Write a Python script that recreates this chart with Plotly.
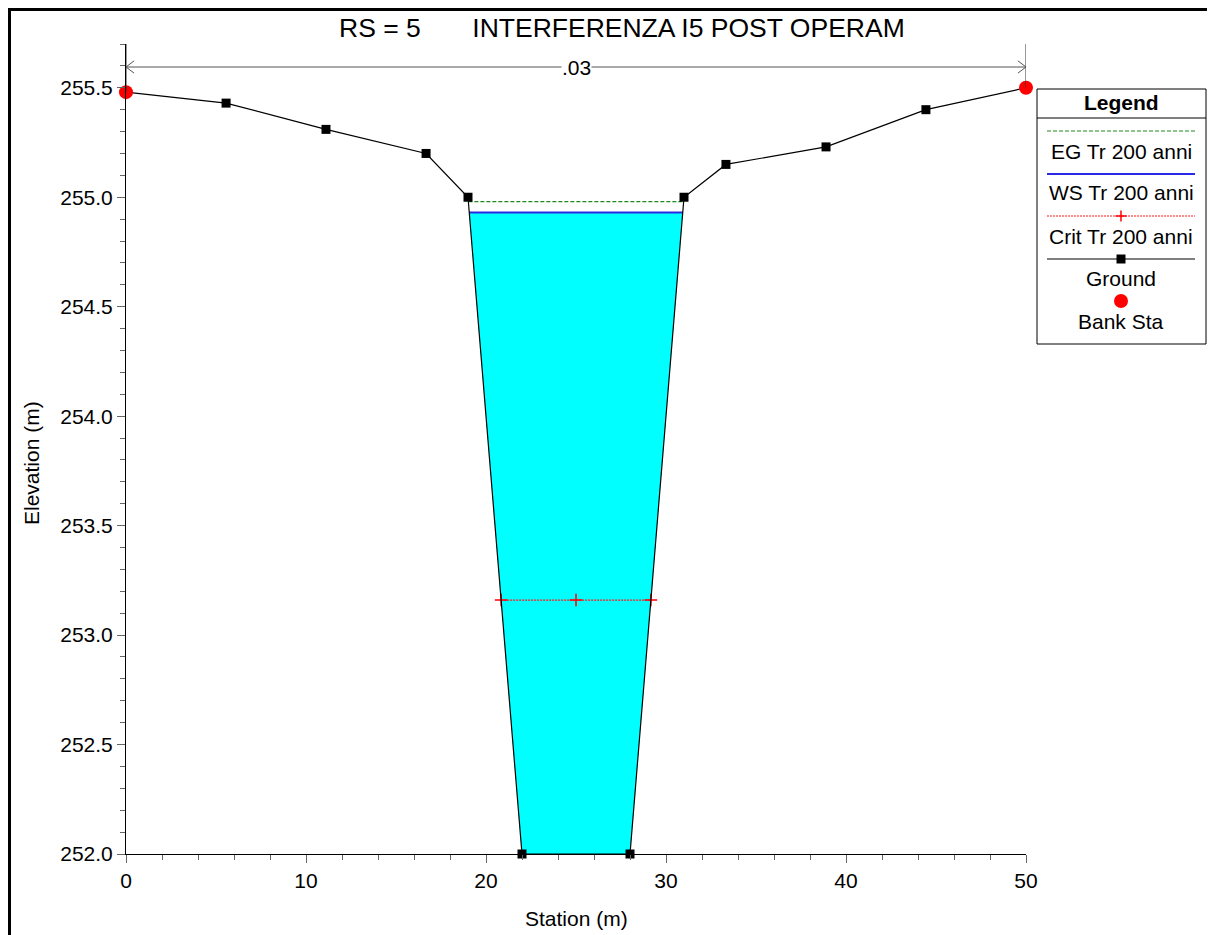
import numpy as np
import plotly.graph_objects as go

# ---- data ----
station = [0.0, 5.56, 11.11, 16.67, 19.0, 22.0, 28.0, 31.0, 33.33, 38.89, 44.44, 50.0]
elevation = [255.48, 255.43, 255.31, 255.20, 255.00, 252.00, 252.00, 255.00, 255.15, 255.23, 255.40, 255.50]
bank_sta = [0.0, 50.0]
ws_elev = 254.93
eg_elev = 254.98
crit_elev = 253.16
mann_n = [".03"]
title_text = "RS = 5\u00a0\u00a0\u00a0\u00a0\u00a0\u00a0\u00a0INTERFERENZA I5 POST OPERAM"
legend_names = ["EG Tr 200 anni", "WS Tr 200 anni", "Crit Tr 200 anni", "Ground", "Bank Sta"]

FONT = "Liberation Sans, Arial, sans-serif"
FS = 21
OFF = 8                      # page body margin
W, H = 1215 - OFF, 935 - OFF
PL, PR, PT, PB = 126, 1026, 44, 854   # plot area in page pixels
XR = [0, 50]
YR = [252.0, 255.7]


def px(p):
    return (p - PL) / (PR - PL)


def py(p):
    return (PB - p) / (PB - PT)


def crossings(level):
    """Return left/right stations where the ground crosses an elevation level."""
    xs = np.array(station)
    ys = np.array(elevation)
    pts = []
    for i in range(len(xs) - 1):
        y0, y1 = ys[i], ys[i + 1]
        if (y0 - level) * (y1 - level) < 0:
            t = (level - y0) / (y1 - y0)
            pts.append(xs[i] + t * (xs[i + 1] - xs[i]))
    return min(pts), max(pts)


fig = go.Figure()

# water fill polygon
xl, xr = crossings(ws_elev)
poly_x = [xl] + [s for s in station if xl < s < xr] + [xr]
poly_y = [ws_elev] + [e for s, e in zip(station, elevation) if xl < s < xr] + [ws_elev]
fig.add_trace(go.Scatter(x=poly_x, y=poly_y, fill="toself", fillcolor="#00ffff",
                         mode="none", hoverinfo="skip", showlegend=False))

EG_COL, WS_COL, CR_COL = "#1f8a1f", "#2a2ae6", "#ff1a1a"
# EG line
el, er = crossings(eg_elev)
fig.add_trace(go.Scatter(x=[el, er], y=[eg_elev, eg_elev], mode="lines",
                         line=dict(color=EG_COL, width=1.3, dash="4px,2px"),
                         name=legend_names[0], showlegend=False))
# WS line
fig.add_trace(go.Scatter(x=[xl, xr], y=[ws_elev, ws_elev], mode="lines",
                         line=dict(color=WS_COL, width=2),
                         name=legend_names[1], showlegend=False))
# Crit line
cl, cr = crossings(crit_elev)
fig.add_trace(go.Scatter(x=[cl, (cl + cr) / 2, cr], y=[crit_elev] * 3, mode="lines+markers",
                         line=dict(color=CR_COL, width=1.3, dash="2px,1px"),
                         marker=dict(symbol="cross-thin", size=9, line=dict(color="#ff0000", width=1.5)),
                         name=legend_names[2], showlegend=False, cliponaxis=False))
# Ground
fig.add_trace(go.Scatter(x=station, y=elevation, mode="lines+markers",
                         line=dict(color="black", width=1.2),
                         marker=dict(symbol="square", size=9, color="black"),
                         name=legend_names[3], showlegend=False, cliponaxis=False))
# Bank stations
bank_y = [float(np.interp(b, station, elevation)) for b in bank_sta]
fig.add_trace(go.Scatter(x=bank_sta, y=bank_y, mode="markers",
                         marker=dict(symbol="circle", size=14, color="#ff0000"),
                         name=legend_names[4], showlegend=False, cliponaxis=False))

shapes = []
annotations = []

# vertical bank lines to top of plot
for b, by in zip(bank_sta, bank_y):
    shapes.append(dict(type="line", xref="x", yref="y", x0=b, x1=b, y0=by, y1=YR[1],
                       line=dict(color="#333333", width=1)))

# Manning's n arrow
arrow_y = YR[0] + (PB - 67) / (PB - PT) * (YR[1] - YR[0])
shapes.append(dict(type="line", xref="x", yref="y", x0=bank_sta[0], x1=bank_sta[1], y0=arrow_y, y1=arrow_y,
                   line=dict(color="#555555", width=1)))
dx, dy = 0.45, 0.028
shapes.append(dict(type="path", xref="x", yref="y",
                   path=f"M {bank_sta[0]+dx},{arrow_y+dy} L {bank_sta[0]},{arrow_y} L {bank_sta[0]+dx},{arrow_y-dy}",
                   line=dict(color="#555555", width=1)))
shapes.append(dict(type="path", xref="x", yref="y",
                   path=f"M {bank_sta[1]-dx},{arrow_y+dy} L {bank_sta[1]},{arrow_y} L {bank_sta[1]-dx},{arrow_y-dy}",
                   line=dict(color="#555555", width=1)))
annotations.append(dict(x=(bank_sta[0] + bank_sta[1]) / 2, y=arrow_y, xref="x", yref="y", text=mann_n[0],
                        showarrow=False, bgcolor="white", font=dict(size=FS, family=FONT, color="black"),
                        xanchor="center", yanchor="middle", borderpad=0))

# title
annotations.append(dict(x=px(622), y=py(28), xref="paper", yref="paper", text=title_text,
                        showarrow=False, font=dict(size=26.5, family=FONT, color="black"),
                        xanchor="center", yanchor="middle"))

# axis titles
annotations.append(dict(x=px(576), y=py(918), xref="paper", yref="paper", text="Station (m)",
                        showarrow=False, font=dict(size=FS, family=FONT, color="black"),
                        xanchor="center", yanchor="middle"))
annotations.append(dict(x=px(31), y=py(463), xref="paper", yref="paper", text="Elevation (m)", textangle=-90,
                        showarrow=False, font=dict(size=FS, family=FONT, color="black"),
                        xanchor="center", yanchor="middle"))

# outer frame (left and top edges)
shapes.append(dict(type="line", xref="paper", yref="paper", x0=px(9.5), x1=px(9.5), y0=py(8), y1=py(940),
                   line=dict(color="black", width=3)))
shapes.append(dict(type="line", xref="paper", yref="paper", x0=px(8), x1=px(1220), y0=py(9.5), y1=py(9.5),
                   line=dict(color="black", width=3)))

# legend box
shapes.append(dict(type="rect", xref="paper", yref="paper", x0=px(1037), x1=px(1206), y0=py(89), y1=py(344),
                   line=dict(color="black", width=1), fillcolor="white"))
shapes.append(dict(type="line", xref="paper", yref="paper", x0=px(1037), x1=px(1206), y0=py(118), y1=py(118),
                   line=dict(color="black", width=1)))
annotations.append(dict(x=px(1121), y=py(102), xref="paper", yref="paper", text="<b>Legend</b>",
                        showarrow=False, font=dict(size=FS, family=FONT, color="black"),
                        xanchor="center", yanchor="middle"))
lx0, lx1, lxc = px(1047), px(1195), px(1121)
# EG
shapes.append(dict(type="line", xref="paper", yref="paper", x0=lx0, x1=lx1, y0=py(131), y1=py(131),
                   line=dict(color=EG_COL, width=1.2, dash="4px,2px")))
# WS
shapes.append(dict(type="line", xref="paper", yref="paper", x0=lx0, x1=lx1, y0=py(174), y1=py(174),
                   line=dict(color=WS_COL, width=2)))
# Crit
shapes.append(dict(type="line", xref="paper", yref="paper", x0=lx0, x1=lx1, y0=py(216), y1=py(216),
                   line=dict(color=CR_COL, width=1.2, dash="2px,1px")))
shapes.append(dict(type="line", xref="paper", yref="paper", x0=px(1115.5), x1=px(1126.5), y0=py(216), y1=py(216),
                   line=dict(color="#ff0000", width=1.5)))
shapes.append(dict(type="line", xref="paper", yref="paper", x0=lxc, x1=lxc, y0=py(210.5), y1=py(221.5),
                   line=dict(color="#ff0000", width=1.5)))
# Ground
shapes.append(dict(type="line", xref="paper", yref="paper", x0=lx0, x1=lx1, y0=py(259), y1=py(259),
                   line=dict(color="black", width=1.2)))
shapes.append(dict(type="rect", xref="paper", yref="paper", x0=px(1116.5), x1=px(1125.5), y0=py(254.5), y1=py(263.5),
                   line=dict(color="black", width=0), fillcolor="black"))
# Bank Sta
shapes.append(dict(type="circle", xref="paper", yref="paper", x0=px(1114), x1=px(1128), y0=py(294), y1=py(308),
                   line=dict(color="#ff0000", width=0), fillcolor="#ff0000"))
for name, yy in zip(legend_names, [151, 193, 236, 278, 321]):
    annotations.append(dict(x=lxc, y=py(yy), xref="paper", yref="paper", text=name, showarrow=False,
                            font=dict(size=FS, family=FONT, color="black"), xanchor="center", yanchor="middle"))

fig.update_layout(
    width=W, height=H,
    margin=dict(l=PL - OFF, r=W - (PR - OFF), t=PT - OFF, b=H - (PB - OFF), pad=0),
    paper_bgcolor="white", plot_bgcolor="white",
    font=dict(family=FONT, size=FS, color="black"),
    shapes=shapes, annotations=annotations, showlegend=False,
)
fig.update_xaxes(
    range=XR, showgrid=False, zeroline=False, showline=True, linecolor="black", linewidth=1,
    ticks="outside", ticklen=8, tickcolor="#666666", tickwidth=1, dtick=10, tick0=0,
    minor=dict(dtick=2, ticks="outside", ticklen=5, tickcolor="#666666", showgrid=False),
    tickfont=dict(size=FS, family=FONT, color="black"),
)
fig.update_yaxes(
    range=YR, showgrid=False, zeroline=False, showline=True, linecolor="black", linewidth=1,
    ticks="outside", ticklen=8, tickcolor="#666666", tickwidth=1, dtick=0.5, tick0=252, tickformat=".1f",
    minor=dict(dtick=0.1, ticks="outside", ticklen=5, tickcolor="#666666", showgrid=False),
    tickfont=dict(size=FS, family=FONT, color="black"),
)

fig.write_html("out.html")
